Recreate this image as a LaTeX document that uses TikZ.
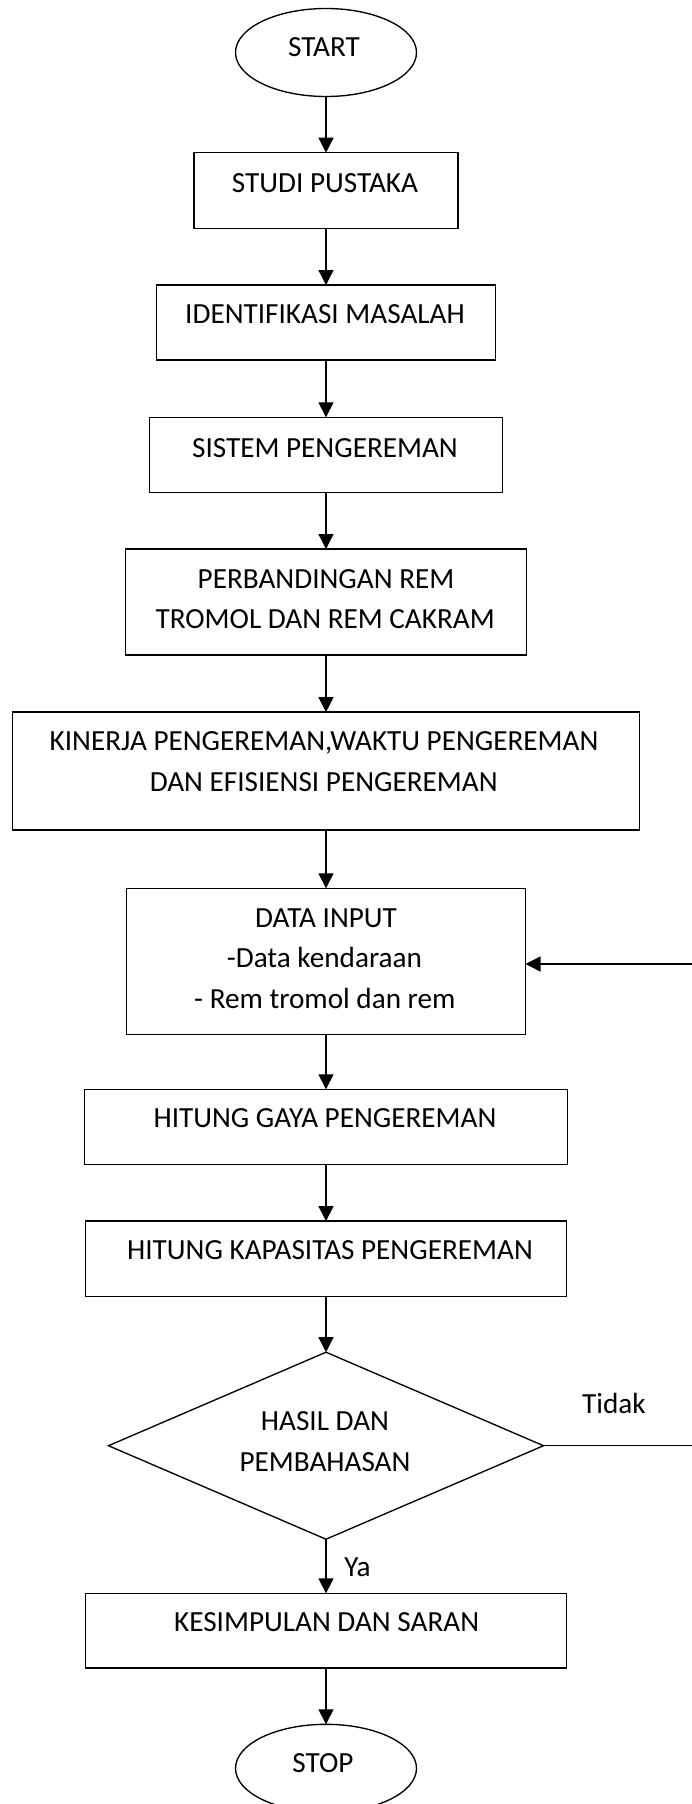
\documentclass[tikz,border=0pt]{standalone}
\usepackage{fontspec}
\setmainfont{Carlito}
\usetikzlibrary{arrows.meta,shapes.geometric}
\begin{document}
\begin{tikzpicture}[x=1pt,y=-1pt,
  lw/.style={line width=1.35pt},
  boxnode/.style={draw,lw,rectangle,inner sep=0pt,outer sep=0pt},
  term/.style={draw,lw,ellipse,inner sep=0pt,outer sep=0pt,minimum width=181pt,minimum height=88pt},
  decision/.style={draw,lw,diamond,inner sep=0pt,outer sep=0pt,minimum width=435pt,minimum height=187pt},
  txt/.style={font=\fontsize{29.2}{35}\selectfont,inner sep=0pt,anchor=base},
  flow/.style={lw,-{Triangle[length=15pt,width=15pt]}}]
\useasboundingbox (0,0) rectangle (692,1804);

% shapes
\node[term] (start) at (326,52.5) {};
\node[boxnode,minimum width=264pt,minimum height=75.6pt] (studi) at (326,190.5) {};
\node[boxnode,minimum width=339pt,minimum height=75pt] (ident) at (326,322.5) {};
\node[boxnode,minimum width=353.5pt,minimum height=75.4pt] (sistem) at (326,455) {};
\node[boxnode,minimum width=400.7pt,minimum height=106pt] (perb) at (326,602) {};
\node[boxnode,minimum width=626.6pt,minimum height=117.7pt] (kinerja) at (326,771) {};
\node[boxnode,minimum width=399pt,minimum height=146pt] (data) at (326,961.3) {};
\node[boxnode,minimum width=483.6pt,minimum height=75pt] (gaya) at (326,1126.8) {};
\node[boxnode,minimum width=480.6pt,minimum height=75.3pt] (kap) at (326,1258.7) {};
\node[decision] (hasil) at (326,1445.7) {};
\node[boxnode,minimum width=480.5pt,minimum height=74.7pt] (kesim) at (326,1630.7) {};
\node[term] (stop) at (326,1768.3) {};

% texts
\node[txt] (startT) at (324,56.7) {START};
\node[txt] (studiT) at (325,192) {STUDI PUSTAKA};
\node[txt] (identT) at (325,323.3) {IDENTIFIKASI MASALAH};
\node[txt] (sistemT) at (325,457) {SISTEM PENGEREMAN};
\node[txt] (perbTa) at (326,588.3) {PERBANDINGAN REM};
\node[txt] (perbTb) at (325.2,628.3) {TROMOL DAN REM CAKRAM};
\node[txt] (kinerjaTa) at (324,750) {KINERJA PENGEREMAN,WAKTU PENGEREMAN};
\node[txt] (kinerjaTb) at (323.7,791.7) {DAN EFISIENSI PENGEREMAN};
\node[txt] (dataTa) at (326,927.3) {DATA INPUT};
\node[txt] (dataTb) at (324.4,967.7) {-Data kendaraan};
\node[txt] (dataTc) at (324.8,1008.3) {- Rem tromol dan rem};
\node[txt] (gayaT) at (325,1127.3) {HITUNG GAYA PENGEREMAN};
\node[txt] (kapT) at (330,1259.3) {HITUNG KAPASITAS PENGEREMAN};
\node[txt] (hasilTa) at (325,1430) {HASIL DAN};
\node[txt] (hasilTb) at (325,1471.7) {PEMBAHASAN};
\node[txt] (kesimT) at (326.6,1631.7) {KESIMPULAN DAN SARAN};
\node[txt] (stopT) at (323,1772.7) {STOP};
\node[txt] (tidak) at (614,1413.3) {Tidak};
\node[txt] (ya) at (357.5,1576.7) {Ya};

% connectors
\draw[flow] (start.south) -- (studi.north);
\draw[flow] (studi.south) -- (ident.north);
\draw[flow] (ident.south) -- (sistem.north);
\draw[flow] (sistem.south) -- (perb.north);
\draw[flow] (perb.south) -- (kinerja.north);
\draw[flow] (kinerja.south) -- (data.north);
\draw[flow] (data.south) -- (gaya.north);
\draw[flow] (gaya.south) -- (kap.north);
\draw[flow] (kap.south) -- (hasil.north);
\draw[flow] (hasil.south) -- (kesim.north);
\draw[flow] (kesim.south) -- (stop.north);
\draw[flow] (hasil.east) -- ++(170,0) |- ([yshift=-2.7pt]data.east);
\end{tikzpicture}
\end{document}
